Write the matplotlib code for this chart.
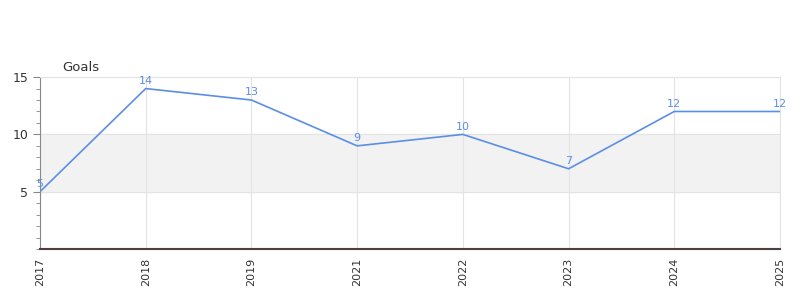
import matplotlib
matplotlib.use('Agg')
import matplotlib.pyplot as plt
from matplotlib.ticker import MultipleLocator

years = ['2017', '2018', '2019', '2021', '2022', '2023', '2024', '2025']
goals = [5, 14, 13, 9, 10, 7, 12, 12]
band = (5, 10)

line_color = '#5b8ee6'
grid_color = '#e3e3e3'

fig = plt.figure(figsize=(8, 3), dpi=100)
ax = fig.add_axes([0.05, 0.17, 0.925, 0.573])

x = list(range(len(years)))

# shaded band
ax.axhspan(band[0], band[1], color='#f2f2f2', zorder=0)

ax.plot(x, goals, color=line_color, lw=1.2, zorder=3)
for xi, v in zip(x, goals):
    ax.annotate(str(v), (xi, v), xytext=(0, 2), textcoords='offset points',
                ha='center', va='bottom', fontsize=8, color=line_color)

# baseline
ax.axhline(0, color='#cc1010', lw=1.0, zorder=4)

ax.set_xlim(0, len(years) - 1)
ax.set_ylim(0, 15)
ax.set_xticks(x)
ax.set_xticklabels(years, rotation=90, fontsize=8, color='#333333')
ax.set_yticks([5, 10, 15])
ax.yaxis.set_minor_locator(MultipleLocator(1))
ax.tick_params(axis='y', labelsize=9, colors='#333333', length=5, color='#888888')
ax.tick_params(axis='y', which='minor', length=3, color='#888888')
ax.tick_params(axis='x', length=0, pad=6)

ax.grid(True, color=grid_color, lw=0.8, zorder=1)
ax.set_axisbelow(True)

for s in ['top', 'right']:
    ax.spines[s].set_color(grid_color)
ax.spines['left'].set_color('#888888')
ax.spines['bottom'].set_color('#444444')
ax.spines['bottom'].set_linewidth(1.5)

fig.text(62 / 800, 1 - 67 / 300, 'Goals', fontsize=9.5, color='#333333',
         ha='left', va='center')

fig.savefig('out.png', dpi=100)
